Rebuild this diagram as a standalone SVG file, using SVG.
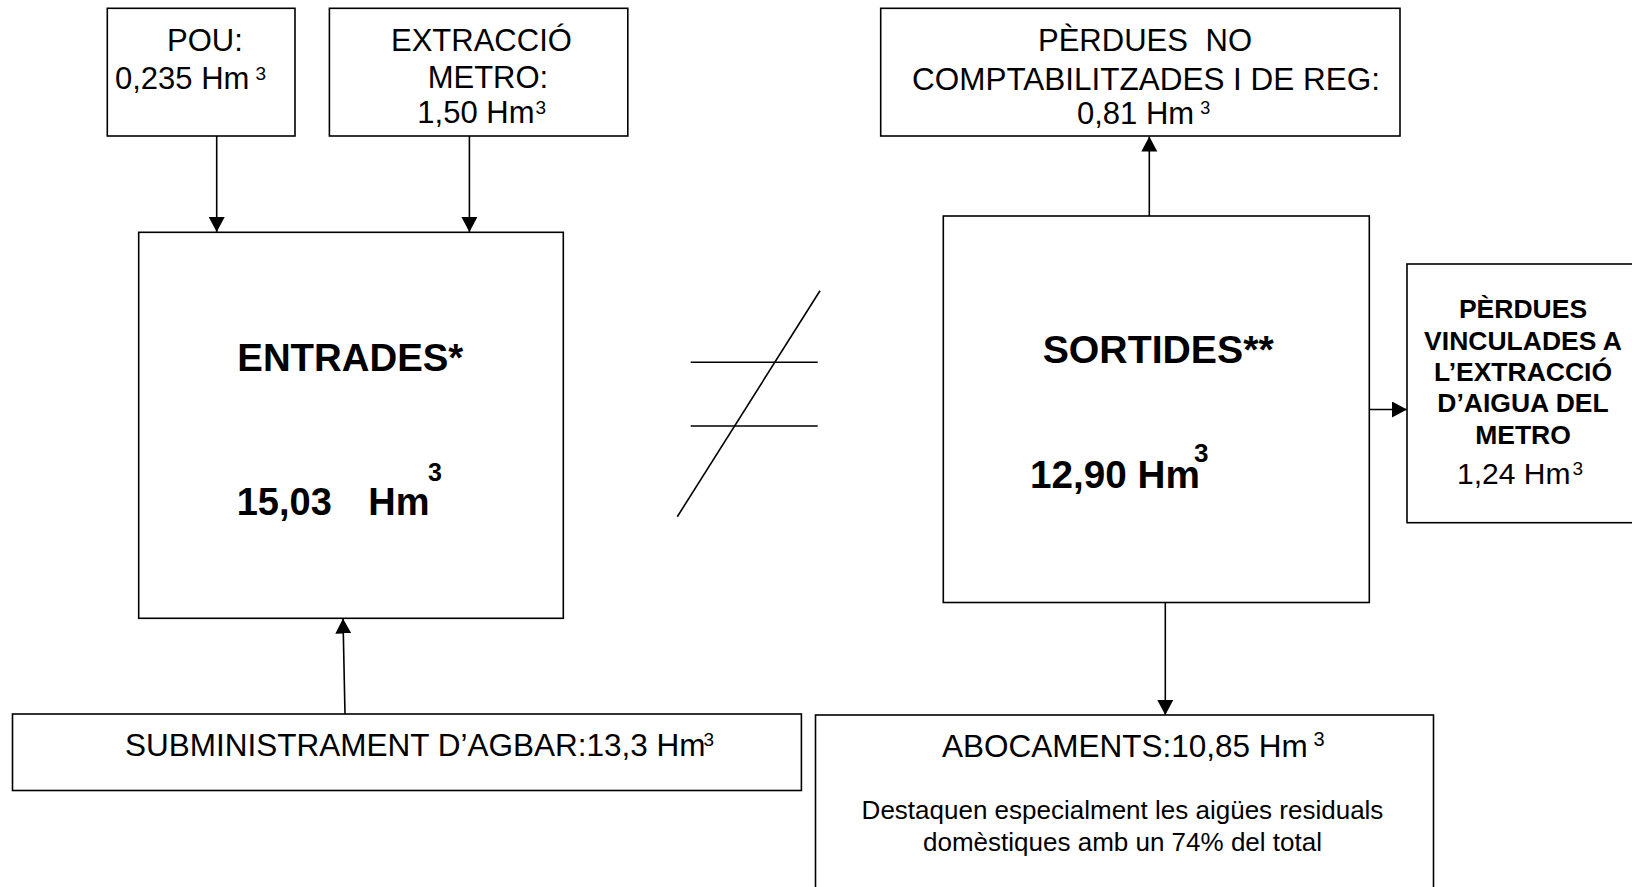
<svg xmlns="http://www.w3.org/2000/svg" width="1632" height="887" viewBox="0 0 1632 887">
<style>
  .box { fill: #ffffff; stroke: #000000; stroke-width: 1.6; }
  .t { font-family: "Liberation Sans", Arial, sans-serif; fill: #000000; }
  .r31 { font-size: 31px; }
  .b38 { font-size: 38px; font-weight: bold; }
  .b27 { font-size: 26.5px; font-weight: bold; }
  .small { font-size: 26px; }
  .sup { font-size: 19px; }
  .conn { stroke: #000000; stroke-width: 1.6; fill: none; marker-end: url(#arrow); }
  .neq { stroke: #000000; stroke-width: 1.6; fill: none; }
</style>
<defs>
  <marker id="arrow" markerUnits="userSpaceOnUse" markerWidth="16" markerHeight="17" refX="15" refY="8" orient="auto">
    <path d="M0,0 L15,8 L0,16 Z" fill="#000000"/>
  </marker>
</defs>
<rect x="0" y="0" width="1632" height="887" fill="#ffffff"/>

<g id="connectors">
  <line class="conn" x1="216.7" y1="136" x2="216.7" y2="232"/>
  <line class="conn" x1="469.4" y1="136" x2="469.4" y2="232"/>
  <line class="conn" x1="345" y1="714" x2="343" y2="618.5"/>
  <line class="conn" x1="1149.3" y1="216" x2="1149.3" y2="136.5"/>
  <line class="conn" x1="1369.5" y1="409.5" x2="1407" y2="409.5"/>
  <line class="conn" x1="1165.3" y1="602.5" x2="1165.3" y2="715"/>
</g>

<g id="pou">
  <rect class="box" x="107.3" y="8.3" width="187.7" height="127.7"/>
  <text class="t r31" x="167" y="50.7">POU:</text>
  <text class="t r31" x="115" y="89">0,235 Hm<tspan class="sup" dx="6" dy="-9">3</tspan></text>
</g>

<g id="extraccio">
  <rect class="box" x="329.4" y="8.3" width="298.4" height="127.7"/>
  <text class="t r31" x="391" y="50.7">EXTRACCIÓ</text>
  <text class="t r31" x="427.7" y="88.3">METRO:</text>
  <text class="t r31" x="417.3" y="123.3">1,50 Hm<tspan class="sup" dx="1" dy="-9">3</tspan></text>
</g>

<g id="entrades">
  <rect class="box" x="138.7" y="232.3" width="424.6" height="386"/>
  <text class="t b38" x="237.3" y="370.7" textLength="226" lengthAdjust="spacingAndGlyphs">ENTRADES*</text>
  <text class="t b38" x="236.7" y="515">15,03</text>
  <text class="t b38" x="368.3" y="515">Hm</text>
  <text class="t" font-size="25" font-weight="bold" x="428" y="481">3</text>
</g>

<g id="subministrament">
  <rect class="box" x="12.5" y="714" width="788.9" height="76.5"/>
  <text class="t" font-size="31.5" x="125" y="756">SUBMINISTRAMENT D’AGBAR:13,3 Hm<tspan class="sup" dx="-2" dy="-10">3</tspan></text>
</g>

<g id="not-equal">
  <line class="neq" x1="690.7" y1="362.3" x2="817.7" y2="362.3"/>
  <line class="neq" x1="690.7" y1="426" x2="817.7" y2="426"/>
  <line class="neq" x1="820" y1="290.7" x2="677.3" y2="516.7"/>
</g>

<g id="perdues-no">
  <rect class="box" x="880.7" y="8.3" width="519.3" height="127.7"/>
  <text class="t r31" x="1038" y="51">PÈRDUES</text>
  <text class="t r31" x="1205.5" y="51">NO</text>
  <text class="t r31" x="912" y="89.5" textLength="468" lengthAdjust="spacingAndGlyphs">COMPTABILITZADES I DE REG:</text>
  <text class="t r31" x="1077" y="124">0,81 Hm<tspan font-size="18" dx="6" dy="-10">3</tspan></text>
</g>

<g id="sortides">
  <rect class="box" x="943.3" y="216" width="426" height="386.5"/>
  <text class="t b38" x="1042.7" y="363.3" textLength="231" lengthAdjust="spacingAndGlyphs">SORTIDES**</text>
  <text class="t b38" x="1030" y="488.3" textLength="170" lengthAdjust="spacingAndGlyphs">12,90 Hm</text>
  <text class="t" font-size="26" font-weight="bold" x="1194" y="462">3</text>
</g>

<g id="perdues-vinculades">
  <rect class="box" x="1407" y="264" width="240" height="258.7"/>
  <text class="t b27" text-anchor="middle" x="1523" y="318">PÈRDUES</text>
  <text class="t b27" text-anchor="middle" x="1523" y="349.5">VINCULADES A</text>
  <text class="t b27" text-anchor="middle" x="1523" y="381">L’EXTRACCIÓ</text>
  <text class="t b27" text-anchor="middle" x="1523" y="412">D’AIGUA DEL</text>
  <text class="t b27" text-anchor="middle" x="1523" y="444">METRO</text>
  <text class="t" font-size="30" x="1457" y="484">1,24 Hm<tspan class="sup" dx="2" dy="-9">3</tspan></text>
</g>

<g id="abocaments">
  <rect class="box" x="815.5" y="715" width="618" height="200"/>
  <text class="t" font-size="31.5" x="942" y="756.7">ABOCAMENTS:10,85 Hm</text>
  <text class="t" font-size="20" x="1313.5" y="746">3</text>
  <text class="t small" text-anchor="middle" x="1122.5" y="818.5">Destaquen especialment les aigües residuals</text>
  <text class="t small" text-anchor="middle" x="1122.5" y="850.5">domèstiques amb un 74% del total</text>
</g>
</svg>
